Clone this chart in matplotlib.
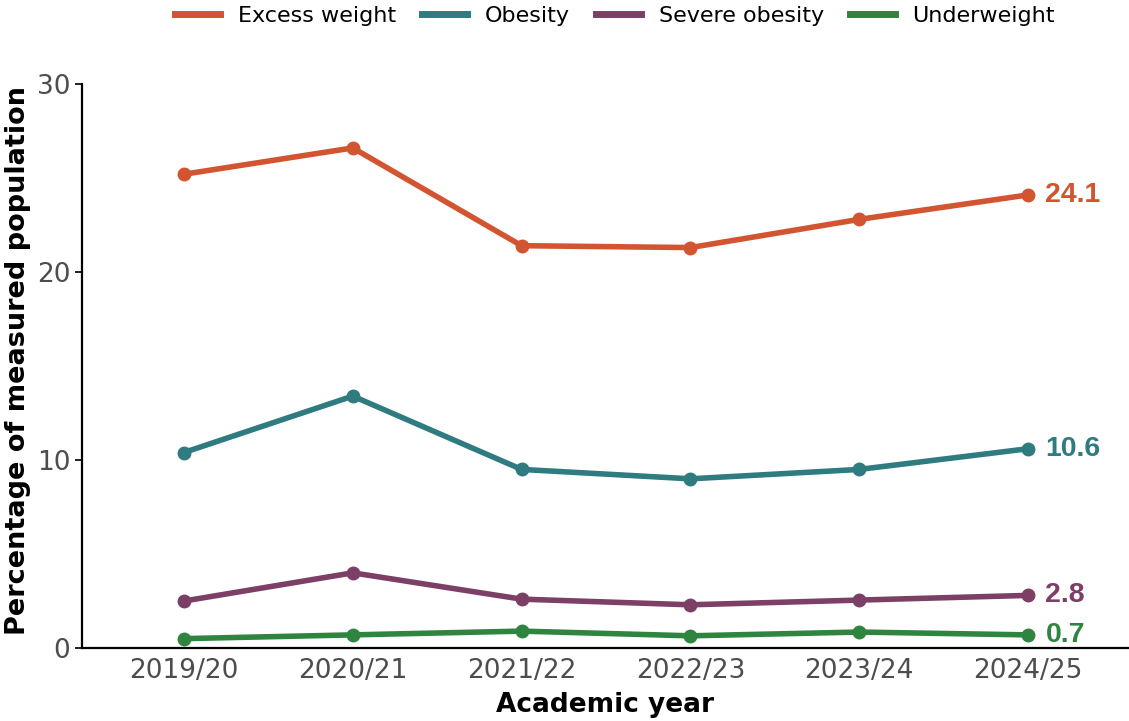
import numpy as np
import matplotlib.pyplot as plt

# Data
years = ['2019/20', '2020/21', '2021/22', '2022/23', '2023/24', '2024/25']
excess_weight = [25.2, 26.6, 21.4, 21.3, 22.8, 24.1]
obesity = [10.4, 13.4, 9.5, 9.0, 9.5, 10.6]
severe_obesity = [2.5, 4.0, 2.6, 2.3, 2.55, 2.8]
underweight = [0.5, 0.7, 0.9, 0.65, 0.85, 0.7]

series_names = ['Excess weight', 'Obesity', 'Severe obesity', 'Underweight']
series_colors = ['#D35430', '#2E7B80', '#7C3F66', '#2F8540']

fig = plt.figure(figsize=(11.29, 7.21), dpi=100)
ax = fig.add_axes([0.0726, 0.1012, 0.9274, 0.7823])

x = np.arange(len(years))
for name, vals, col in zip(series_names,
                           [excess_weight, obesity, severe_obesity, underweight],
                           series_colors):
    ax.plot(x, vals, color=col, linewidth=4, marker='o', markersize=9, label=name)
    ax.annotate(f'{vals[-1]:.1f}', (x[-1], vals[-1]), xytext=(12.5, 0),
                textcoords='offset points', va='center', ha='left',
                color=col, fontsize=20.5, fontweight='bold', family='Liberation Sans')

ax.set_xlim(-0.604, 5.598)
ax.set_ylim(0, 30)
ax.set_yticks([0, 10, 20, 30])
ax.set_xticks(x)
ax.set_xticklabels(years)
ax.tick_params(axis='both', labelsize=19, labelcolor='#4d4d4d', length=5, width=1.2)
ax.tick_params(axis='x', length=0, pad=7)
ax.spines['top'].set_visible(False)
ax.spines['right'].set_visible(False)
ax.spines['left'].set_linewidth(1.6)
ax.spines['bottom'].set_linewidth(1.6)

ax.set_xlabel('Academic year', fontsize=19, fontweight='bold', labelpad=6)
ax.set_ylabel('Percentage of measured population', fontsize=19.5, fontweight='bold',
              labelpad=4, y=0.51)

leg = fig.legend(*ax.get_legend_handles_labels(), loc='upper center', ncol=4,
                 bbox_to_anchor=(0.545, 1.02), frameon=False, fontsize=16,
                 handlelength=2.0, columnspacing=1.2, handletextpad=0.8)
for h in leg.legend_handles:
    h.set_marker('')
    h.set_linewidth(5)

fig.savefig('out.png', dpi=100)
